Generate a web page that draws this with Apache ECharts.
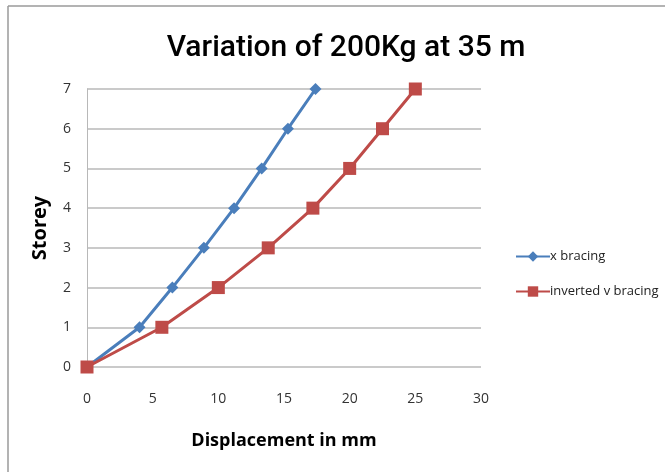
<!DOCTYPE html>
<html>
<head>
<meta charset="utf-8">
<script src="https://cdn.jsdelivr.net/npm/echarts@6/dist/echarts.min.js"></script>
<style>
  html, body { margin: 0; padding: 0; background: #fff; }
  #chart { width: 665px; height: 472px; }
</style>
</head>
<body>
<div id="chart"></div>
<script>
// Storey displacement (mm) for two bracing systems
const storeys = [0, 1, 2, 3, 4, 5, 6, 7];
const xBracing = [0, 4.0, 6.5, 8.9, 11.2, 13.3, 15.3, 17.4];
const invertedVBracing = [0, 5.7, 10.0, 13.8, 17.2, 20.0, 22.5, 25.0];
const seriesNames = ['x bracing', 'inverted v bracing'];

const titleFont = 'Roboto, "Liberation Sans", sans-serif';
const labelFont = '"Open Sans", "DejaVu Sans Condensed", sans-serif';

const chart = echarts.init(document.getElementById('chart'));
chart.setOption({
  backgroundColor: '#ffffff',
  animation: false,
  title: {
    text: 'Variation of 200Kg at 35 m',
    left: 341, top: 28, textAlign: 'center',
    textStyle: { fontFamily: titleFont, fontSize: 30, fontWeight: 500, color: '#000' }
  },
  legend: {
    orient: 'vertical', left: 510, top: 245, itemGap: 22,
    itemWidth: 34, itemHeight: 13,
    textStyle: { fontFamily: labelFont, fontSize: 13, color: '#222', padding: [0, 0, 0, -5] },
    data: seriesNames
  },
  grid: { left: 87, right: 184, top: 89, bottom: 105 },
  xAxis: {
    type: 'value', min: 0, max: 30, interval: 5,
    name: 'Displacement in mm', nameLocation: 'middle', nameGap: 65,
    nameTextStyle: { fontFamily: labelFont, fontSize: 18, fontWeight: 'bold', color: '#000' },
    axisLine: { show: false }, axisTick: { show: false }, splitLine: { show: false },
    axisLabel: { fontFamily: labelFont, fontSize: 14, color: '#333', margin: 25 }
  },
  yAxis: {
    type: 'value', min: 0, max: 7, interval: 1,
    name: 'Storey', nameLocation: 'middle', nameGap: 37,
    nameTextStyle: { fontFamily: labelFont, fontSize: 20, fontWeight: 'bold', color: '#000' },
    axisLine: { show: true, lineStyle: { color: '#b8b8b8', width: 1 } },
    axisTick: { show: false },
    splitLine: { lineStyle: { color: '#b8b8b8', width: 1.5 } },
    axisLabel: { fontFamily: labelFont, fontSize: 14, color: '#333', margin: 16 }
  },
  graphic: [
    { type: 'line', shape: { x1: 8, y1: 6, x2: 665, y2: 6 }, style: { stroke: '#9a9a9a', lineWidth: 1.5 } },
    { type: 'line', shape: { x1: 8, y1: 6, x2: 8, y2: 472 }, style: { stroke: '#9a9a9a', lineWidth: 1.5 } }
  ],
  series: [
    {
      name: seriesNames[0], type: 'line',
      data: xBracing.map((v, i) => [v, storeys[i]]),
      symbol: 'diamond', symbolSize: 12,
      lineStyle: { color: '#4a7ebb', width: 3 },
      itemStyle: { color: '#4a7ebb' }
    },
    {
      name: seriesNames[1], type: 'line',
      data: invertedVBracing.map((v, i) => [v, storeys[i]]),
      symbol: 'rect', symbolSize: 13,
      lineStyle: { color: '#be4b48', width: 3 },
      itemStyle: { color: '#be4b48' }
    }
  ]
});
</script>
</body>
</html>
